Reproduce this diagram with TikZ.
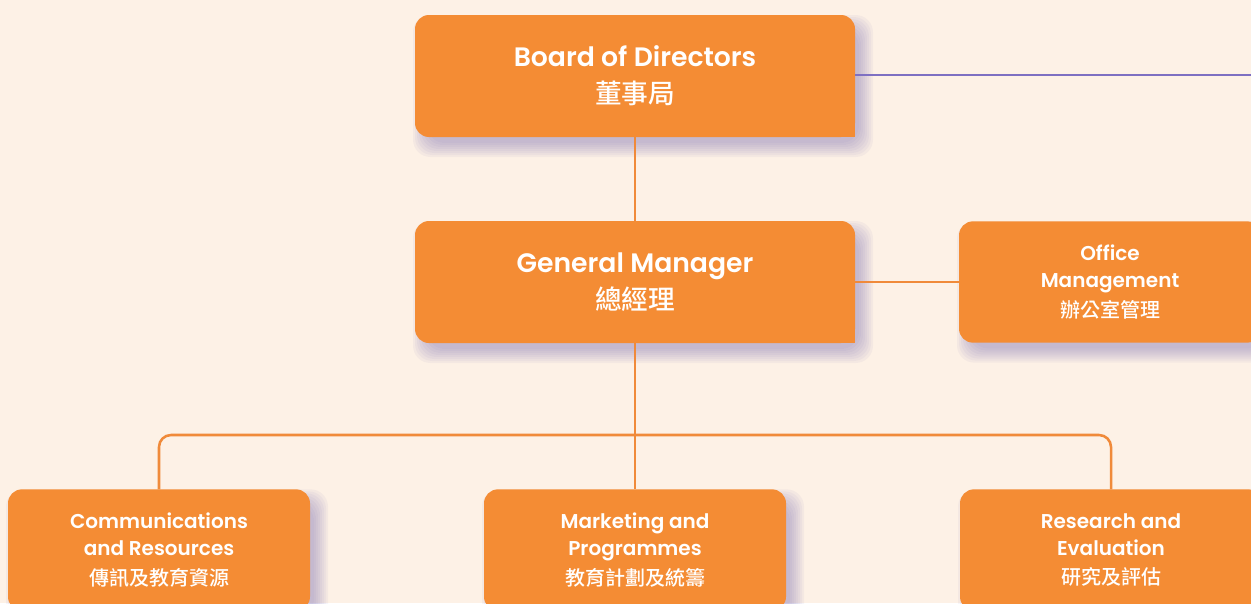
\documentclass[tikz,border=0pt]{standalone}
\usepackage{fontspec}
\setmainfont{Poppins SemiBold}
\newfontfamily\cjk{Noto Sans CJK TC Medium}
\usetikzlibrary{backgrounds}
\definecolor{bgcream}{RGB}{253,241,230}
\definecolor{boxorange}{RGB}{244,140,52}
\definecolor{lineorange}{RGB}{240,138,58}
\definecolor{linepurple}{RGB}{126,112,194}
\definecolor{shadowgrey}{RGB}{130,118,182}
\tikzset{every picture/.style={line width=0.75pt}}
\tikzset{
  unitbox/.style={fill=boxorange, rounded corners=10.5pt, text=white, align=center, inner sep=0pt, outer sep=0pt},
  bigbox/.style={unitbox, minimum width=330pt, minimum height=91.5pt, font=\fontsize{20}{28}\selectfont},
  smallbox/.style={unitbox, minimum width=226.5pt, minimum height=91pt, font=\fontsize{15}{20.5}\selectfont},
  softshadow/.style={fill=shadowgrey, fill opacity=0.065, rounded corners=13pt},
  link/.style={draw=lineorange, line width=1.9pt},
}

\begin{document}
\begin{tikzpicture}[x=0.75pt,y=0.75pt,yscale=-1,xscale=1]
\useasboundingbox (0,0) rectangle (1251,603);
\clip (0,0) rectangle (1251,603);

% boxes
\node[bigbox] (board) at (635,76) {Board of Directors\\{\cjk 董事局}};
\node[bigbox] (gm) at (635,282) {General Manager\\{\cjk 總經理}};
\node[smallbox] (office) at (1110,282) {Office\\Management\\[1.5pt]{\cjk 辦公室管理}};
\node[smallbox] (comm) at (159,550) {Communications\\and Resources\\[1.5pt]{\cjk 傳訊及教育資源}};
\node[smallbox] (mkt) at (635,550) {Marketing and\\Programmes\\[1.5pt]{\cjk 教育計劃及統籌}};
\node[smallbox] (research) at (1111,550) {Research and\\Evaluation\\[1.5pt]{\cjk 研究及評估}};

% square lower right corners
\fill[boxorange] (board.south east) rectangle ([xshift=-12pt,yshift=-12pt]board.south east);
\fill[boxorange] (gm.south east) rectangle ([xshift=-12pt,yshift=-12pt]gm.south east);

\coordinate (edge) at (1251,75);
\coordinate (bus) at (635,435);

% connectors
\draw[draw=linepurple, line width=1.9pt] (board.east |- edge) -- (edge);
\draw[link] (board.south) -- (gm.north);
\draw[link] (gm.east) -- (office.west);
\draw[link] (gm.south) -- (mkt.north);
\draw[link, rounded corners=9pt] (comm.north) |- (bus) -| (research.north);

\begin{pgfonlayer}{background}
\fill[bgcream] (0,0) rectangle (1251,603);
\foreach \n in {board,gm,office,comm,mkt,research}
  \foreach \k in {0,...,7}
    \fill[softshadow] ([shift={({12-2*\k},{14-2*\k})}]\n.north west) rectangle ([shift={({2*\k+4},{2*\k+6})}]\n.south east);
\end{pgfonlayer}

\end{tikzpicture}
\end{document}
